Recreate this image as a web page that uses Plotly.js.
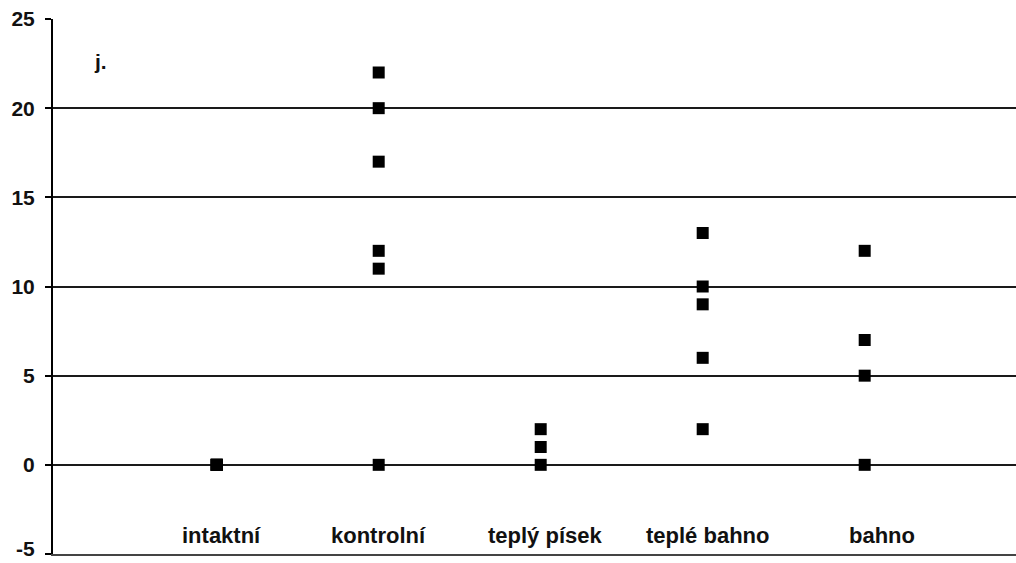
<!DOCTYPE html>
<html>
<head>
<meta charset="utf-8">
<script src="https://cdn.plot.ly/plotly-3.0.1.min.js"></script>
<style>html,body{margin:0;padding:0;background:#fff;}#chart{width:1016px;height:563px;}</style>
</head>
<body>
<div id="chart"></div>
<script>
const categories = ["intaktní", "kontrolní", "teplý písek", "teplé bahno", "bahno"];
const intaktni = [0, 0, 0, 0, 0];
const kontrolni = [22, 20, 17, 12, 11, 0];
const teplyPisek = [2, 1, 0];
const tepleBahno = [13, 10, 9, 6, 2];
const bahno = [12, 7, 5, 0];
const groups = [intaktni, kontrolni, teplyPisek, tepleBahno, bahno];
const yTicks = [-5, 0, 5, 10, 15, 20, 25];
const unitLabel = "j.";

const xs = [], ys = [];
groups.forEach((g, i) => g.forEach(v => { xs.push(i + 1); ys.push(v); }));

const font = "Liberation Sans, Arial, sans-serif";
const labelShift = [5, 0, 4, 5, 17];
const yMin = yTicks[0];

const annotations = categories.map((c, i) => ({
  x: i + 1, y: -3.95, xref: "x", yref: "y", text: "<b>" + c + "</b>",
  showarrow: false, xshift: labelShift[i],
  font: {family: font, size: 22, color: "#111"}
}));
annotations.push({
  x: 0.28, y: 22.6, xref: "x", yref: "y", text: "<b>" + unitLabel + "</b>",
  showarrow: false, font: {family: font, size: 21, color: "#111"}
});
// lowest tick label drawn as annotation so it stays inside the picture
annotations.push({
  x: 0, y: yMin, xref: "paper", yref: "y", text: "<b>" + String(yMin) + "</b>",
  xanchor: "right", yanchor: "bottom", xshift: -16, yshift: -8,
  showarrow: false, font: {family: font, size: 21, color: "#111"}
});

Plotly.newPlot("chart", [{
  type: "scatter", mode: "markers", x: xs, y: ys,
  marker: {symbol: "square", size: 12, color: "#000"},
  cliponaxis: false, hoverinfo: "skip"
}], {
  width: 1016, height: 563,
  margin: {l: 53, r: 0, t: 19, b: 9},
  paper_bgcolor: "#fff", plot_bgcolor: "#fff",
  showlegend: false,
  xaxis: {range: [-0.0105, 5.934], showgrid: false, zeroline: false,
    showticklabels: false, ticks: "", showline: true, linecolor: "#444", linewidth: 2},
  yaxis: {range: [yMin, 25], tickvals: yTicks,
    ticktext: yTicks.map(v => v === yMin ? "" : String(v)),
    showgrid: true, gridcolor: "#1a1a1a", gridwidth: 2, zeroline: false,
    showline: true, linecolor: "#000", linewidth: 2,
    ticks: "outside", ticklen: 6, tickwidth: 2, tickcolor: "#000",
    ticklabelstandoff: 6,
    tickfont: {family: font, size: 21, color: "#111", weight: "bold"}},
  annotations: annotations
}, {staticPlot: true});
</script>
</body>
</html>
